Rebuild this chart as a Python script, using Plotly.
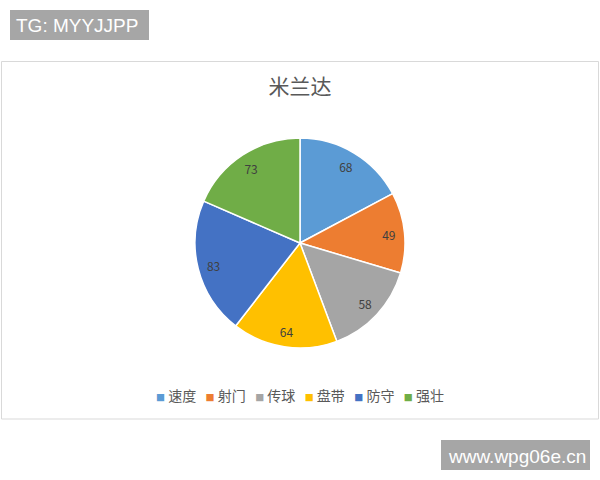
import plotly.graph_objects as go

# data
skills = ["速度", "射门", "传球", "盘带", "防守", "强壮"]
scores = [68, 49, 58, 64, 83, 73]
colors = ["#5B9BD5", "#ED7D31", "#A5A5A5", "#FFC000", "#4472C4", "#70AD47"]

W, H = 600, 480

def py(y):
    # pixel row from top -> paper fraction
    return 1 - y / H

pie_dom = dict(x=[195 / W, 405 / W], y=[py(348), py(138)])

fig = go.Figure()
# coloured slices
fig.add_trace(go.Pie(
    labels=skills, values=scores, sort=False, direction="clockwise", rotation=0,
    marker=dict(colors=colors, line=dict(color="white", width=1.5)),
    textinfo="none", hoverinfo="label+value", showlegend=False, domain=pie_dom,
))
# transparent ring on top, only to put the value labels further out like Excel
fig.add_trace(go.Pie(
    labels=skills, values=scores, sort=False, direction="clockwise", rotation=0,
    hole=0.7,
    marker=dict(colors=["rgba(0,0,0,0)"] * len(skills), line=dict(width=0)),
    textinfo="value", textposition="inside", insidetextorientation="horizontal",
    textfont=dict(size=12, color="#404040", family="Noto Sans CJK SC"),
    hoverinfo="skip", showlegend=False, domain=pie_dom,
))

# chart frame
fig.add_shape(type="rect", xref="paper", yref="paper",
              x0=1.5 / W, x1=598.5 / W, y0=py(419), y1=py(61.5),
              line=dict(color="#D9D9D9", width=1), fillcolor="rgba(0,0,0,0)")
# watermark boxes
fig.add_shape(type="rect", xref="paper", yref="paper",
              x0=10 / W, x1=149 / W, y0=py(40), y1=py(10),
              line=dict(width=0), fillcolor="#A6A6A6")
fig.add_shape(type="rect", xref="paper", yref="paper",
              x0=441 / W, x1=590 / W, y0=py(470), y1=py(440),
              line=dict(width=0), fillcolor="#A6A6A6")

fig.add_annotation(text="TG: MYYJJPP", xref="paper", yref="paper",
                   x=14 / W, y=py(25.5), xanchor="left", yanchor="middle",
                   showarrow=False, font=dict(size=19, color="white", family="Liberation Sans"))
fig.add_annotation(text="www.wpg06e.cn", xref="paper", yref="paper",
                   x=446 / W, y=py(456), xanchor="left", yanchor="middle",
                   showarrow=False, font=dict(size=19, color="white", family="Liberation Sans"))

# compact Excel-like legend
legend_txt = "&nbsp;&nbsp;&nbsp;".join(
    f'<span style="color:{c};font-size:9px">■</span>&nbsp;{s}' for s, c in zip(skills, colors)
)
fig.add_annotation(text=legend_txt, xref="paper", yref="paper",
                   x=0.5, y=py(395), xanchor="center", yanchor="middle",
                   showarrow=False, font=dict(size=14, color="#595959", family="Noto Sans CJK SC"))

fig.update_layout(
    width=W, height=H,
    margin=dict(l=0, r=0, t=0, b=0),
    paper_bgcolor="white",
    plot_bgcolor="white",
    title=dict(text="米兰达", x=0.5, xanchor="center", y=py(87), yanchor="middle",
               font=dict(size=21, color="#595959", family="Noto Sans CJK SC")),
    showlegend=False,
    font=dict(family="Noto Sans CJK SC"),
)

fig.write_html("out.html", config={"displayModeBar": False},
               post_script="document.body.style.margin='0';")
